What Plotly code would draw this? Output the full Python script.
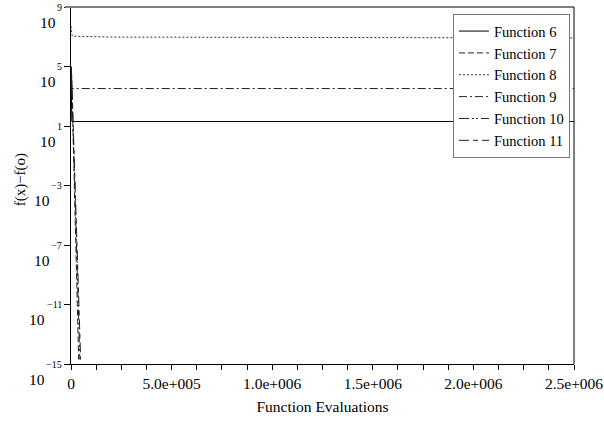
import plotly.graph_objects as go

names = ["Function 6", "Function 7", "Function 8", "Function 9", "Function 10", "Function 11"]
x_f6 = [0, 4000, 2500000]
y_f6 = [9.0e4, 2.0e1, 2.0e1]
x_f7 = [0, 3000, 38000]
y_f7 = [1.0e5, 3.0e4, 2.0e-15]
x_f8 = [0, 6000, 200000, 2500000]
y_f8 = [5.0e7, 1.1e7, 9.5e6, 8.3e6]
x_f9 = [0, 4000, 2500000]
y_f9 = [1.0e5, 3.3e3, 3.3e3]
x_f10 = [0, 3000, 44000]
y_f10 = [8.0e4, 2.0e4, 2.0e-15]
x_f11 = [0, 3000, 48000]
y_f11 = [1.0e5, 3.0e4, 2.0e-15]

xs = [x_f6, x_f7, x_f8, x_f9, x_f10, x_f11]
ys = [y_f6, y_f7, y_f8, y_f9, y_f10, y_f11]
dashes = ["solid", "6px,3px", "2px,2px", "8px,3px,2px,3px", "10px,3px,2px,2px,2px,3px", "10px,4px,5px,4px"]
colors = ["black", "#222", "#333", "#222", "#222", "#222"]

x_tickvals = [0, 500000, 1000000, 1500000, 2000000, 2500000]
x_ticktext = ["0", "5.0e+005", "1.0e+006", "1.5e+006", "2.0e+006", "2.5e+006"]
y_exps = [9, 5, 1, -3, -7, -11, -15]

font = "Liberation Serif, Times New Roman, serif"
fs = 15.5

fig = go.Figure()
for n, x, y, d, c in zip(names, xs, ys, dashes, colors):
    fig.add_trace(go.Scatter(x=x, y=y, mode="lines", name=n,
                             line=dict(color=c, width=1, dash=d)))

fig.update_layout(
    width=604, height=421,
    margin=dict(l=71, r=30, t=7, b=57, autoexpand=False),
    plot_bgcolor="white", paper_bgcolor="white",
    font=dict(family=font, size=fs, color="black"),
    showlegend=True,
    legend=dict(x=0.992, y=0.98, xanchor="right", yanchor="top",
                bordercolor="#777", borderwidth=1, bgcolor="white",
                font=dict(size=14.5, family=font), tracegroupgap=0,
                itemwidth=30),
)
fig.update_xaxes(range=[0, 2500000], tickvals=x_tickvals, ticktext=x_ticktext,
                 ticks="outside", ticklen=5, tickcolor="black",
                 minor=dict(dtick=125000, ticks="outside", ticklen=5, tickcolor="black"),
                 showline=True, linecolor="black", linewidth=1,
                 showgrid=False, zeroline=False, automargin=False,
                 tickfont=dict(size=fs, family=font),
                 title=dict(text="Function Evaluations", font=dict(size=fs, family=font), standoff=10))
fig.update_yaxes(type="log", range=[-15, 9], tickvals=[10.0 ** e for e in y_exps],
                 showticklabels=False, ticks="outside", ticklen=6, tickcolor="black",
                 showline=True, linecolor="black", linewidth=1,
                 showgrid=False, zeroline=False, automargin=False)

fig.add_annotation(xref="paper", yref="paper", x=-0.101, y=0.515, text="f(x)−f(o)",
                   showarrow=False, textangle=-90, xanchor="center", yanchor="middle",
                   font=dict(size=15, family=font))

for e in y_exps:
    s = str(e).replace("-", "−")
    w = 10 * (0.5 * len(str(abs(e))) + (0.564 if e < 0 else 0)) + 3
    fig.add_annotation(xref="paper", yref="y", x=0, y=e, text=s, showarrow=False,
                       xanchor="right", yanchor="middle", xshift=-7,
                       font=dict(size=10, family=font))
    fig.add_annotation(xref="paper", yref="y", x=0, y=e, text="10", showarrow=False,
                       xanchor="right", yanchor="middle", xshift=-5 - w, yshift=-15,
                       font=dict(size=fs, family=font))

fig.add_shape(type="line", xref="paper", yref="paper", x0=-0.012, x1=1, y0=1, y1=1,
              line=dict(color="#808080", width=2))
fig.add_shape(type="line", xref="paper", yref="paper", x0=1, x1=1, y0=0, y1=1,
              line=dict(color="black", width=1))

fig.write_html("out.html", config={"displayModeBar": False},
               post_script="document.body.style.margin='0px';document.body.style.overflow='hidden';")
